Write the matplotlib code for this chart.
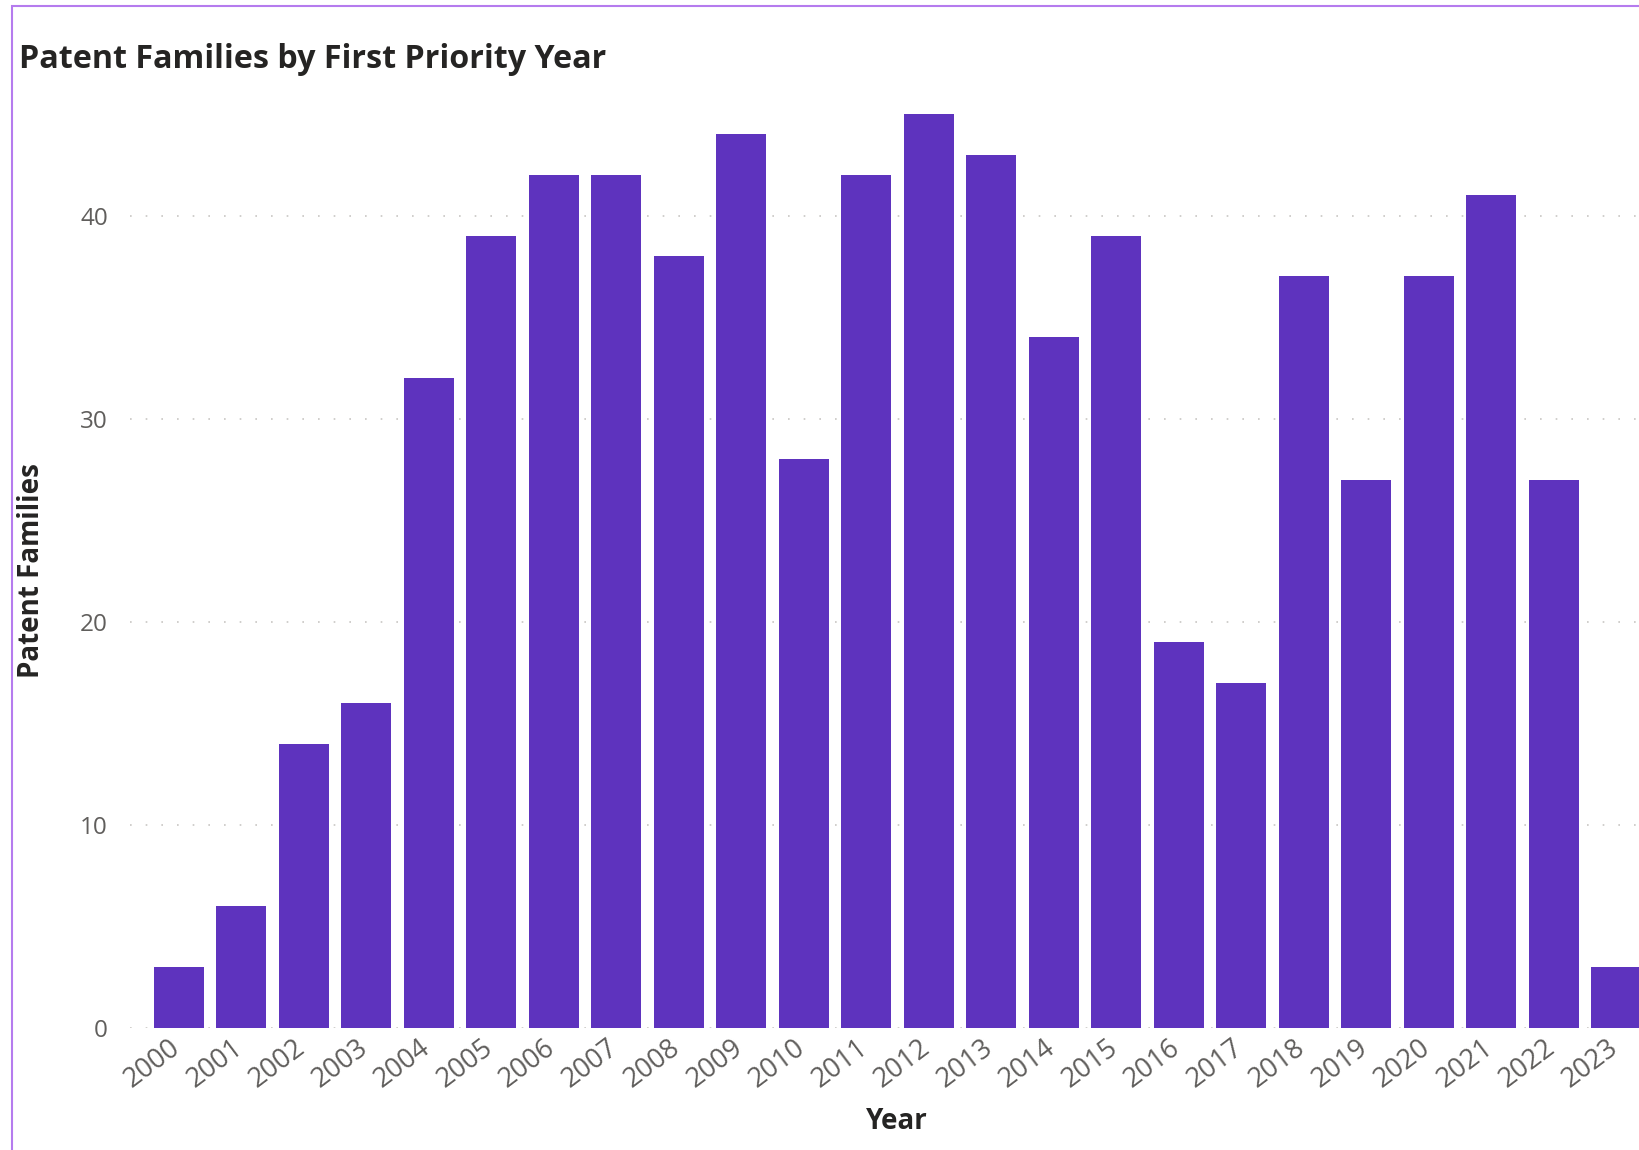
import numpy as np
import matplotlib.pyplot as plt
import matplotlib.transforms as mtransforms
from matplotlib.patches import Rectangle

FILENAME = "out.png"

# Dati
years = ["2000", "2001", "2002", "2003", "2004", "2005", "2006", "2007",
         "2008", "2009", "2010", "2011", "2012", "2013", "2014", "2015",
         "2016", "2017", "2018", "2019", "2020", "2021", "2022", "2023"]
families = [3, 6, 14, 16, 32, 39, 42, 42, 38, 44, 28, 42, 45, 43, 34, 39,
            19, 17, 37, 27, 37, 41, 27, 3]
y_ticks = [0, 10, 20, 30, 40]

BAR_COLOR = '#5E33BE'
TEXT_GRAY = '#605E5C'
FONT = ['Open Sans', 'DejaVu Sans']


def main():
    plt.rcParams['font.family'] = FONT

    fig = plt.figure(figsize=(16.4, 11.5), dpi=100)
    # l'area del grafico esce leggermente a destra, come nell'originale
    ax = fig.add_axes([130 / 1640, 122 / 1150, 1534 / 1640, 914 / 1150])

    x = np.arange(len(years))
    ax.bar(x, families, width=0.8, color=BAR_COLOR, zorder=2)

    ax.set_xlim(-0.78, len(years) - 1 + 0.76)
    ax.set_ylim(0, 45)
    ax.set_yticks(y_ticks)
    ax.set_xticks(x)
    ax.set_xticklabels(years, rotation=37, ha='right', rotation_mode='anchor',
                       fontsize=19.5, color=TEXT_GRAY)
    ax.tick_params(axis='y', labelsize=17.5, labelcolor=TEXT_GRAY, length=0, pad=16)
    ax.tick_params(axis='x', length=0, pad=4)

    # piccolo spostamento a sinistra delle etichette degli anni
    shift = mtransforms.ScaledTranslation(-10 / 100, 0, fig.dpi_scale_trans)
    for lab in ax.get_xticklabels():
        lab.set_transform(lab.get_transform() + shift)

    # griglia punteggiata
    ax.yaxis.grid(True, color='#C8C6C4', linewidth=1.2, linestyle=(0, (1, 8.4)), zorder=0)
    ax.set_axisbelow(True)
    for s in ax.spines.values():
        s.set_visible(False)

    ax.set_xlabel("Year", fontsize=20, fontweight='bold', color='#252423', labelpad=10)
    ax.set_ylabel("Patent Families", fontsize=20, fontweight='bold', color='#252423')
    ax.yaxis.set_label_coords(-0.055, 0.5)

    fig.text(19 / 1640, 1 - 59 / 1150, "Patent Families by First Priority Year",
             fontsize=23.2, fontweight='bold', color='#252423', va='center', ha='left')

    # bordo viola del riquadro
    fig.patches.append(Rectangle((12 / 1640, -0.1), 1.2, 1 - 6 / 1150 + 0.1,
                                 transform=fig.transFigure, fill=False,
                                 edgecolor='#B57BEE', linewidth=1.5, zorder=0))

    plt.savefig(FILENAME, dpi=100)


if __name__ == "__main__":
    main()
